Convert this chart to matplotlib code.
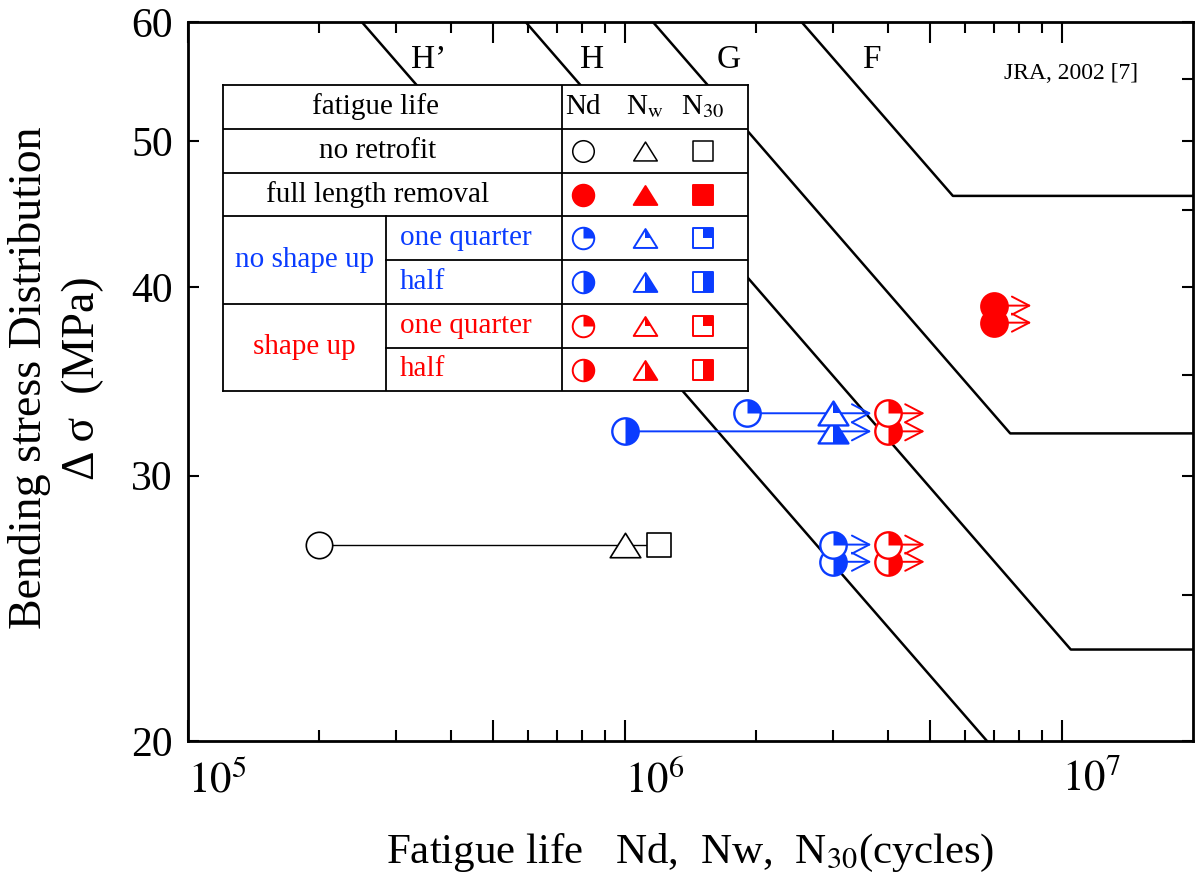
"""S-N diagram of retrofitted specimens with JSSC design curves"""

import numpy as np
import matplotlib.pyplot as plt
from matplotlib.path import Path
from matplotlib.ticker import NullFormatter

plt.rcParams['font.family'] = ['Liberation Serif', 'DejaVu Serif']
plt.rcParams['mathtext.fontset'] = 'stix'

W, H = 1197, 875
BLUE = '#0a3cff'
RED = '#ff0000'

# design curves as drawn on the chart (vertices, N in cycles, stress in MPa)
cat_labels = ['H\u2019', 'H', 'G', 'F']
cat_N = [[2.5e5, 6.75e6],
         [5.93e5, 1.05e7, 2.0e7],
         [1.16e6, 7.63e6, 2.0e7],
         [2.54e6, 5.64e6, 2.0e7]]
cat_S = [[60, 20], [60, 23, 23], [60, 32, 32], [60, 46, 46]]
cat_label_N = [3.56e5, 8.4e5, 1.73e6, 3.66e6]
cat_label_S = 56.6

# no retrofit specimen: Nd, Nw, N30
plain_N = [2.0e5, 1.0e6, 1.2e6]
plain_S = 27.0

# retrofitted specimens (all run-outs, arrow to ret_end)
ret_group = ['no shape up', 'no shape up', 'shape up', 'shape up',
             'no shape up', 'no shape up', 'shape up', 'shape up',
             'full length removal', 'full length removal']
ret_type = ['half', 'quarter', 'half', 'quarter', 'half', 'quarter',
            'half', 'quarter', 'full', 'full']
ret_S = [32.1, 33.0, 32.1, 33.0, 26.3, 27.0, 26.3, 27.0, 37.9, 38.9]
ret_Nd = [1.0e6, 1.9e6, 4.0e6, 4.0e6, 3.0e6, 3.0e6, 4.0e6, 4.0e6, 7.0e6, 7.0e6]
ret_Nw = [3.0e6, 3.0e6, None, None, None, None, None, None, None, None]
ret_end = [3.67e6, 3.67e6, 4.86e6, 4.86e6, 3.67e6, 3.67e6,
           4.86e6, 4.86e6, 8.53e6, 8.53e6]

group_color = {'no retrofit': 'black', 'full length removal': RED,
               'no shape up': BLUE, 'shape up': RED}

# legend table rows
leg_group = ['no retrofit', 'full length removal', 'no shape up', 'no shape up',
             'shape up', 'shape up']
leg_type = ['open', 'full', 'quarter', 'half', 'quarter', 'half']
leg_sub = ['', '', 'one quarter', 'half', 'one quarter', 'half']
leg_head = ['Nd', r'N$_{\mathrm{w}}$', r'N$_{30}$']

# marker shapes: full outline, right half, top-right quarter
TRI_H = 0.8


def closed(verts):
    return Path(list(verts) + [verts[0]], closed=True)


SHAPES = {
    'o': (Path.unit_circle(), Path.wedge(-90, 90), Path.wedge(0, 90)),
    '^': (closed([(0, TRI_H), (-1, -TRI_H), (1, -TRI_H)]),
          closed([(0, TRI_H), (0, -TRI_H), (1, -TRI_H)]),
          closed([(0, TRI_H), (0, 0), (0.5, 0)])),
    's': (closed([(-1, -1), (1, -1), (1, 1), (-1, 1)]),
          closed([(0, -1), (1, -1), (1, 1), (0, 1)]),
          closed([(0, 0), (1, 0), (1, 1), (0, 1)])),
}


def draw_marker(ax, x, y, shape, kind, color, ms, mew, z):
    full, half, quarter = SHAPES[shape]

    def put(path, **kw):
        k = np.abs(path.vertices).max()
        ax.plot([x], [y], ls='none', marker=path, ms=ms * k, zorder=z,
                clip_on=False, **kw)

    put(full, mfc=color if kind == 'full' else 'white', mec='none', mew=0)
    part = {'half': half, 'quarter': quarter}.get(kind)
    if part is not None:
        put(part, mfc=color, mec='none', mew=0)
    put(full, mfc='none', mec=color, mew=mew)


fig = plt.figure(figsize=(W / 100, H / 100), dpi=100)
ax = fig.add_axes([188 / W, 1 - 741 / H, 1005 / W, 719 / H])
ax.set_xscale('log')
ax.set_yscale('log')
ax.set_xlim(1e5, 2e7)
ax.set_ylim(20, 60)

# design curves
for n, s in zip(cat_N, cat_S):
    ax.plot(n, s, color='black', lw=1.8, zorder=2)
for lab, n in zip(cat_labels, cat_label_N):
    ax.text(n, cat_label_S, lab, ha='center', va='center', fontsize=24)

ax.text(0.879, 0.928, 'JRA, 2002 [7]', transform=ax.transAxes,
        ha='center', va='center', fontsize=17)

# no retrofit
ax.plot(plain_N, [plain_S] * 3, color='black', lw=1.0, zorder=3)
for n, shp, ms in zip(plain_N, ['o', '^', 's'], [19, 22, 17]):
    draw_marker(ax, n, plain_S, shp, 'open', 'black', ms, 1.2, 6)

# retrofitted, run-outs
for i in range(len(ret_S)):
    c = group_color[ret_group[i]]
    ax.annotate('', xy=(ret_end[i], ret_S[i]), xytext=(ret_Nd[i], ret_S[i]),
                arrowprops=dict(arrowstyle='->,head_length=1.25,head_width=0.65',
                                color=c, lw=1.4, shrinkA=0, shrinkB=0,
                                mutation_scale=10), zorder=3)
for i in range(len(ret_S)):
    c = group_color[ret_group[i]]
    z = 6 + 0.1 * i
    draw_marker(ax, ret_Nd[i], ret_S[i], 'o', ret_type[i], c, 19, 1.7, z)
    if ret_Nw[i] is not None:
        draw_marker(ax, ret_Nw[i], ret_S[i], '^', ret_type[i], c, 21.5, 1.7, z)

# axes, ticks
ax.set_xticks([1e5, 5e5, 1e6, 5e6, 1e7],
              labels=['$10^{5}$', '', '$10^{6}$', '', '$10^{7}$'])
ax.set_xticks([2e5, 3e5, 4e5, 6e5, 7e5, 8e5, 9e5,
               2e6, 3e6, 4e6, 6e6, 7e6, 8e6, 9e6], minor=True)
ax.xaxis.set_minor_formatter(NullFormatter())
ax.set_yticks([20, 30, 40, 50, 60], labels=['20', '30', '40', '50', '60'])
ax.set_yticks([25, 35, 45, 55], minor=True)
ax.yaxis.set_minor_formatter(NullFormatter())
for lab in ax.get_xticklabels():
    lab.set_horizontalalignment('left')

ax.tick_params(axis='both', which='both', direction='in', top=True, right=True,
               width=1.5)
ax.tick_params(axis='x', which='major', length=15, pad=14, labelsize=31)
ax.tick_params(axis='x', which='minor', length=8)
ax.tick_params(axis='y', which='major', length=8, pad=11, labelsize=30)
ax.tick_params(axis='y', which='minor', length=8, left=False)
for sp in ax.spines.values():
    sp.set_linewidth(2)

fig.text(690 / W, 1 - 863 / H, 'Fatigue life   Nd,  Nw,  N$_{30}$(cycles)',
         ha='center', va='baseline', fontsize=31)
fig.text(56 / W, 1 - 378 / H, 'Bending stress Distribution\n\u0394 \u03c3  (MPa)',
         rotation=90, ha='center', va='center', fontsize=33, linespacing=1.3,
         multialignment='center')

# legend table (in pixel units of the figure)
row_edges = [85, 129, 173, 216, 260, 304, 348, 391]
tab_left, tab_right, split_x, mark_x = 223, 748, 386, 562
col_x = [583, 645, 703]

tab = fig.add_axes([tab_left / W, 1 - row_edges[-1] / H,
                    (tab_right - tab_left) / W, (row_edges[-1] - row_edges[0]) / H])
tab.set_xlim(tab_left, tab_right)
tab.set_ylim(row_edges[-1], row_edges[0])
tab.set_xticks([])
tab.set_yticks([])
for sp in tab.spines.values():
    sp.set_linewidth(1.3)

for k, yy in enumerate(row_edges[1:-1]):
    x0 = split_x if k in (3, 5) else tab_left
    tab.plot([x0, tab_right], [yy, yy], color='black', lw=1.3)
tab.plot([mark_x, mark_x], [row_edges[0], row_edges[-1]], color='black', lw=1.3)
tab.plot([split_x, split_x], [row_edges[3], row_edges[-1]], color='black', lw=1.3)

centers = [(a + b) / 2 for a, b in zip(row_edges[:-1], row_edges[1:])]
tab.text(376, centers[0], 'fatigue life', ha='center', va='center', fontsize=21)
for cx, lab in zip(col_x, leg_head):
    tab.text(cx, centers[0], lab, ha='center', va='center', fontsize=21)

for r in range(len(leg_group)):
    yc = centers[r + 1]
    c = group_color[leg_group[r]]
    if leg_sub[r]:
        tab.text(400, yc, leg_sub[r], ha='left', va='center', fontsize=21, color=c)
    else:
        tab.text(378, yc, leg_group[r], ha='center', va='center', fontsize=21,
                 color='black')
    mew = 1.1 if leg_group[r] == 'no retrofit' else 1.4
    for cx, shp, ms in zip(col_x, ['o', '^', 's'], [15.5, 17, 14.5]):
        draw_marker(tab, cx, yc, shp, leg_type[r], c, ms, mew, 5)

tab.text((tab_left + split_x) / 2, row_edges[4], 'no shape up', ha='center',
         va='center', fontsize=21, color=BLUE)
tab.text((tab_left + split_x) / 2, (row_edges[5] + row_edges[7]) / 2, 'shape up',
         ha='center', va='center', fontsize=21, color=RED)

fig.savefig('out.png', dpi=100)
